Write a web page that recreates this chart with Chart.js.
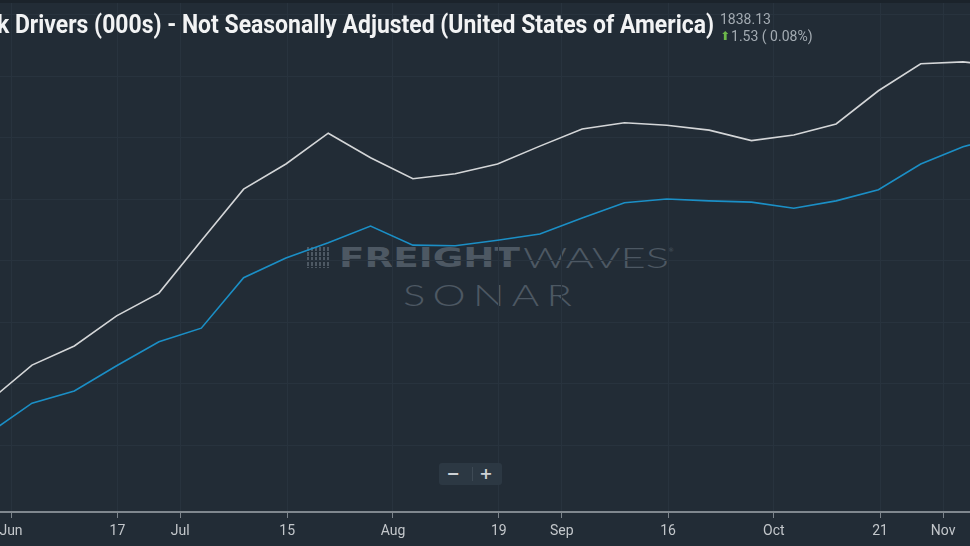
<!DOCTYPE html>
<html><head><meta charset="utf-8">
<script src="https://cdn.jsdelivr.net/npm/chart.js@4.4.0/dist/chart.umd.min.js"></script>
<style>
html,body{margin:0;padding:0;background:#222c36;overflow:hidden;}
#wrap{position:relative;width:970px;height:546px;overflow:hidden;background:#222c36;}
#cvbox{position:absolute;left:0;top:0;width:970px;height:546px;z-index:2;}
.abs{position:absolute;white-space:nowrap;line-height:1;}
#topband{position:absolute;left:0;top:0;width:970px;height:3px;background:#1b232b;z-index:3;}
#title{left:-3px;top:12px;font-family:Roboto,"Liberation Sans",sans-serif;font-weight:700;font-size:25px;color:#f2f3f4;z-index:3;transform-origin:0 0;}
#val{left:720px;top:12px;font-family:Roboto,sans-serif;font-size:14px;color:#a3abb2;z-index:3;}
#chg{left:720px;top:29px;font-family:Roboto,sans-serif;font-size:14px;color:#a3abb2;z-index:3;}
#chg .arr{color:#6cb84a;font-family:"DejaVu Sans",sans-serif;font-size:12px;margin-right:1px;position:relative;top:-1px;}
.wm{z-index:1;color:#4d5863;transform-origin:0 0;}
#wmicon{position:absolute;left:307px;top:247px;width:24px;height:21px;z-index:1;
 background:repeating-linear-gradient(90deg,#4d5863 0 2px,transparent 2px 4px);}
#wmicon:after{content:"";position:absolute;left:0;top:0;width:24px;height:21px;
 background:repeating-linear-gradient(180deg,transparent 0 4px,#222c36 4px 5px);}
#freight{left:339px;top:245px;font-family:"DejaVu Sans",sans-serif;font-weight:700;font-size:26px;}
#waves{left:523px;top:245px;font-family:Lato,"Open Sans",sans-serif;font-weight:300;font-size:26.5px;}
#reg{left:668px;top:247px;font-family:"DejaVu Sans",sans-serif;font-size:6px;}
#sonar{left:403px;top:280px;font-family:Lato,"Open Sans",sans-serif;font-weight:300;font-size:29px;letter-spacing:5px;}
#zoombox{position:absolute;left:439px;top:463px;width:63px;height:22px;background:#2c3843;border-radius:3px;z-index:3;}
#zoombox .b{position:absolute;top:0;height:22px;line-height:22px;font-family:"DejaVu Sans",sans-serif;font-weight:700;font-size:16px;color:#cdd1d5;text-align:center;width:20px;}
#zoombox .sep{position:absolute;left:33px;top:4px;width:1px;height:14px;background:#3e4a55;}
</style></head><body>
<div id="wrap">
 <div id="wmicon"></div>
 <div class="abs wm" id="freight">FREIGHT</div>
 <div class="abs wm" id="waves">WAVES</div>
 <div class="abs wm" id="reg">®</div>
 <div class="abs wm" id="sonar">SONAR</div>
 <div id="cvbox"><canvas id="c"></canvas></div>
 <div id="topband"></div>
 <div class="abs" id="title">k Drivers (000s) - Not Seasonally Adjusted (United States of America)</div>
 <div class="abs" id="val">1838.13</div>
 <div class="abs" id="chg"><span class="arr">⬆</span>1.53 ( 0.08%)</div>
 <div id="zoombox"><div class="b" style="left:4px">−</div><div class="sep"></div><div class="b" style="left:37px">+</div></div>
</div>
<script>
// weekly observation index (ordinal axis)
const weekIndex = [-1,0,1,2,3,4,5,6,7,8,9,10,11,12,13,14,15,16,17,18,19,20,21,22,23];
const whiteSeries = [1777.2,1783.0,1786.1,1791.0,1794.7,1803.2,1811.6,1815.7,1820.7,1816.7,1813.3,1814.1,1815.7,1818.6,1821.4,1822.4,1822.0,1821.2,1819.5,1820.4,1822.2,1827.6,1832.0,1832.3,1831.6];
const blueSeries  = [1772.0,1776.8,1778.8,1782.9,1786.8,1789.0,1797.2,1800.4,1802.9,1805.6,1802.5,1802.4,1803.3,1804.3,1806.9,1809.4,1810.0,1809.7,1809.5,1808.5,1809.7,1811.5,1815.7,1818.5,1820.4];
const tickPositions = [-0.496,2.02,3.5,6.03,8.53,11.03,12.52,15.03,17.53,20.04,21.53];
const tickLabels = ['Jun','17','Jul','15','Aug','19','Sep','16','Oct','21','Nov'];

const toXY = (vals) => weekIndex.map((x, i) => ({x: x, y: vals[i]}));

new Chart(document.getElementById('c'), {
  type: 'line',
  data: {
    datasets: [
      {label: 'Drivers (000s) NSA', data: toXY(whiteSeries), borderColor: '#d4d6d8', borderWidth: 1.6, pointRadius: 0, tension: 0},
      {label: 'Comparison', data: toXY(blueSeries), borderColor: '#1b8fc6', borderWidth: 1.6, pointRadius: 0, tension: 0}
    ]
  },
  options: {
    responsive: true, maintainAspectRatio: false, animation: false,
    layout: {padding: 0},
    plugins: {legend: {display: false}, tooltip: {enabled: false}},
    scales: {
      x: {
        type: 'linear', min: -0.756, max: 22.164,
        afterBuildTicks: (s) => { s.ticks = tickPositions.map(v => ({value: v})); },
        afterFit: (s) => { s.height = 34; s.paddingLeft = 0; s.paddingRight = 0; },
        ticks: {autoSkip: false, maxRotation: 0, padding: 5, color: '#c3c7cb',
          font: {family: 'Roboto', size: 14},
          callback: (v, i) => tickLabels[i]},
        grid: {color: '#28333e', lineWidth: 1, tickLength: 6, tickColor: '#7d858d'},
        border: {display: true, color: '#80888f', width: 2}
      },
      y: {
        type: 'linear', min: 1759.11, max: 1842.36,
        afterBuildTicks: (s) => { s.ticks = s.ticks.filter(t => Math.abs(t.value / 10 - Math.round(t.value / 10)) < 1e-6); },
        afterFit: (s) => { s.width = 0; },
        ticks: {display: false, stepSize: 10},
        grid: {color: '#28333e', lineWidth: 1, drawTicks: false},
        border: {display: false}
      }
    }
  }
});

function fitW(id, w) { const el = document.getElementById(id); const cur = el.getBoundingClientRect().width; el.style.transform = 'scaleX(' + (w / cur) + ')'; }
function layoutText() {
  fitW('title', 717);
  fitW('freight', 181);
  fitW('waves', 146);
  fitW('sonar', 176);
}
if (document.fonts && document.fonts.ready) { document.fonts.ready.then(layoutText); } else { layoutText(); }
</script>
</body></html>
